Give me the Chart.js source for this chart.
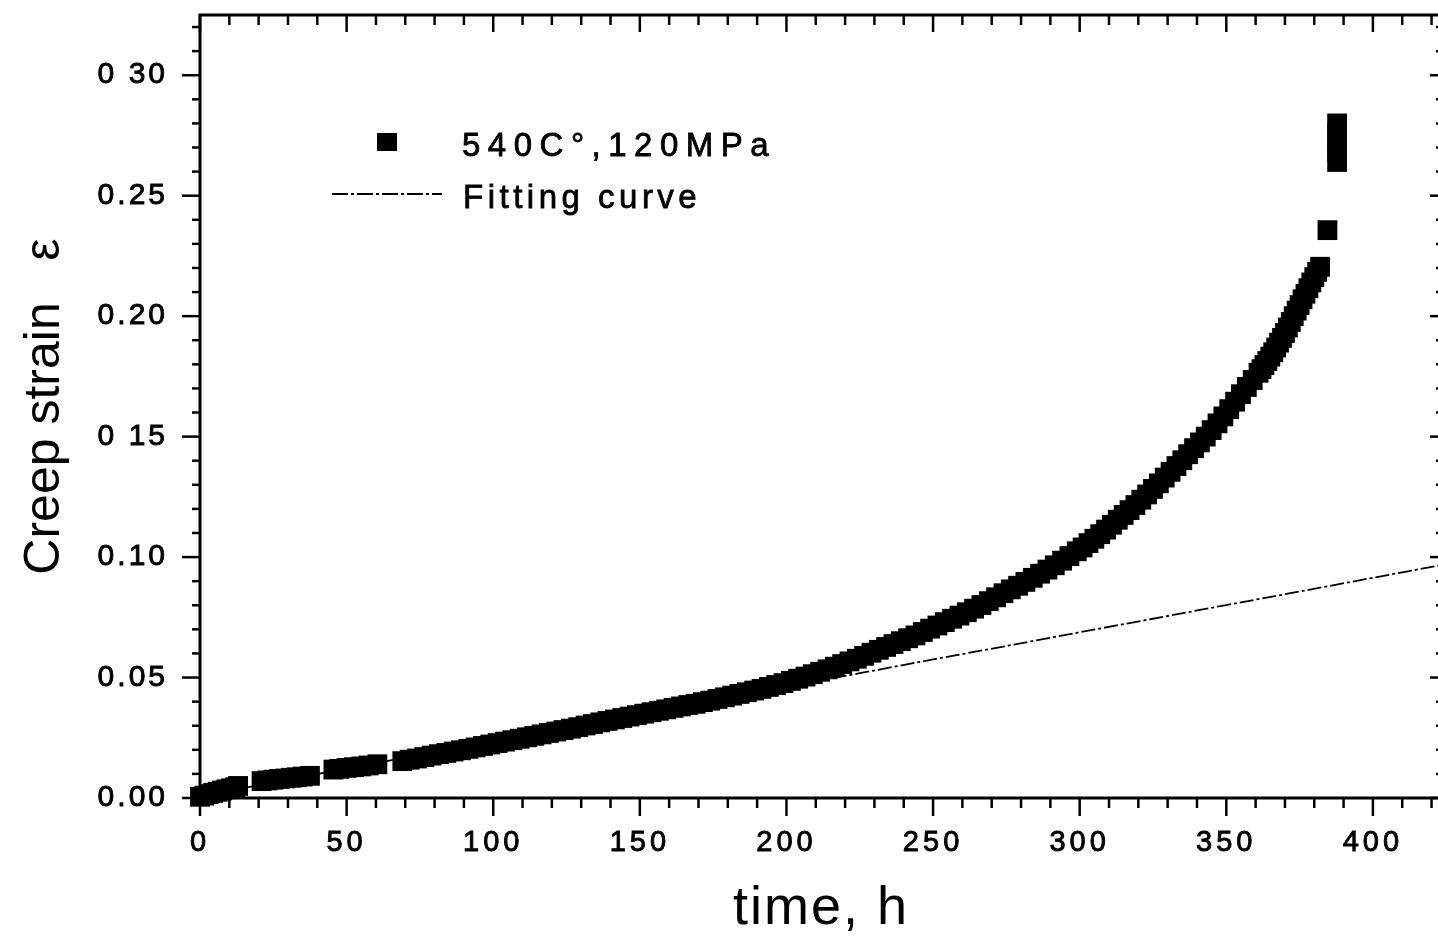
<!DOCTYPE html>
<html>
<head>
<meta charset="utf-8">
<script src="https://cdn.jsdelivr.net/npm/chart.js@4.4.1/dist/chart.umd.min.js"></script>
<style>
html,body{margin:0;padding:0;background:#fff;overflow:hidden;width:1438px;height:947px}
canvas{display:block}
</style>
</head>
<body>
<canvas id="c" width="1438" height="947" style="width:1438px;height:947px"></canvas>
<script>
// ---------- labels ----------
const seriesLabel = '540C°,120MPa';
const fitLabel = 'Fitting curve';
const xTitle = 'time, h';
const yTitle = 'Creep strain   ε';

// ---------- measured creep data (time in h, strain), read segment by segment ----------
const seg1Time   = [0,1.5,3,4.5,6,7.5,9,10.5,12,13];
const seg1Strain = [0.0005,0.0010,0.0016,0.0021,0.0026,0.0031,0.0036,0.0040,0.0045,0.0050];

const seg2Time   = [21,23,25,27,29,31,33,35,37.5];
const seg2Strain = [0.0070,0.0073,0.0076,0.0079,0.0081,0.0084,0.0086,0.0089,0.0092];

const seg3Time   = [45.5,47.5,50,52.5,55,57.5,60.5];
const seg3Strain = [0.0118,0.0121,0.0125,0.0128,0.0131,0.0135,0.0140];

const seg4Time = [
  69,71.5,74,76.5,79,81.5,84,86.5,89,91.5,
  94,96.5,99,101.5,104,106.5,109,111.5,114,116.5,
  119,121.5,124,126.5,129,131.5,134,136.5,139,141.5,
  144,146.5,149,151.5,154,156.5,159,161.5,164,166.5,
  169,171.5,174,176.5,179,181.5,184,186.5,189,191.5,
  194,196.5,199,201.5,204,206.5,209,211.5,214,216.5,
  219,221.5,224,226.5,229,231.5,234,236.5,239,241.5,
  244,246.5,249,251.5,254,256.5,259,261.5,264,266.5,
  269,271.5,274,276.5,279,281.5,284,286.5,289,291.5,
  294,296.5,299];
const seg4Strain = [
  0.0153,0.0159,0.0164,0.0170,0.0176,0.0182,0.0187,0.0193,0.0198,0.0204,
  0.0210,0.0216,0.0222,0.0228,0.0234,0.0240,0.0246,0.0252,0.0258,0.0264,
  0.0270,0.0276,0.0282,0.0288,0.0294,0.0301,0.0307,0.0314,0.0320,0.0326,
  0.0332,0.0338,0.0344,0.0350,0.0356,0.0362,0.0368,0.0374,0.0380,0.0386,
  0.0391,0.0398,0.0404,0.0411,0.0418,0.0425,0.0432,0.0439,0.0446,0.0453,
  0.0461,0.0469,0.0477,0.0486,0.0495,0.0504,0.0514,0.0524,0.0534,0.0545,
  0.0556,0.0567,0.0578,0.0590,0.0603,0.0615,0.0627,0.0639,0.0651,0.0663,
  0.0675,0.0689,0.0703,0.0716,0.0730,0.0744,0.0757,0.0771,0.0786,0.0801,
  0.0817,0.0833,0.0850,0.0866,0.0881,0.0897,0.0914,0.0931,0.0948,0.0966,
  0.0985,0.1004,0.1024];

const seg5Time = [
  301,303,305,307,309,311,313,315,317,319,
  321,323,325,327,329,331,333,335,337,339,
  341,343,345,347,349,351,353,355,357,359,
  361];
const seg5Strain = [
  0.1040,0.1058,0.1076,0.1095,0.1114,0.1134,0.1155,0.1175,0.1195,0.1216,
  0.1238,0.1260,0.1283,0.1306,0.1330,0.1354,0.1378,0.1402,0.1427,0.1452,
  0.1476,0.1500,0.1527,0.1555,0.1584,0.1614,0.1645,0.1676,0.1706,0.1735,
  0.1765];

const seg6Time = [
  362,363,364,365,366,367,368,369,370,371,
  372,373,374,375,376,377,378,379,380,381,
  382];
const seg6Strain = [
  0.1780,0.1797,0.1814,0.1832,0.1850,0.1870,0.1890,0.1910,0.1930,0.1953,
  0.1976,0.2000,0.2023,0.2046,0.2070,0.2093,0.2116,0.2140,0.2162,0.2184,
  0.2205];

const seg7Time   = [384.5,387.8,387.8,387.8,387.8,387.8];
const seg7Strain = [0.2357,0.2640,0.2680,0.2720,0.2760,0.2800];

// ---------- fitting curve ----------
const fitTimeHours = [0,10,25,50,75,100,125,150,175,200,225,250,275,300,325,350,375,400,423];
const fitStrain = [0,0.0029,0.0066,0.0122,0.0179,0.0236,0.0292,0.0349,0.0405,0.0462,0.0518,0.0575,0.0631,0.0688,0.0744,0.0801,0.0857,0.0914,0.0966];

// ---------- axes ----------
const xTickValues = [0,50,100,150,200,250,300,350,400];
const xTickLabels = ['0','50','100','150','200','250','300','350','400'];
const yTickValues = [0,0.05,0.10,0.15,0.20,0.25,0.30];
const yTickLabels = ['0.00','0.05','0.10','0 15','0.20','0.25','0 30'];
const xMinorStep = 10;
const yMinorStep = 0.01;

const timeHours = [].concat(seg1Time, seg2Time, seg3Time, seg4Time, seg5Time, seg6Time, seg7Time);
const creepStrain = [].concat(seg1Strain, seg2Strain, seg3Strain, seg4Strain, seg5Strain, seg6Strain, seg7Strain);

// ---------- styling ----------
Chart.defaults.font.family = "'Liberation Sans', Arial, sans-serif";
Chart.defaults.color = '#000';

const textStyle = {
  x: {labels: '4px', title: '2px', dx: 2, dy: 1},
  y: {labels: '3px', title: '0px', dx: 0, dy: 0}
};

const framePlugin = {
  id: 'frame',
  beforeDraw(chart) {
    for (const id of ['x', 'y']) {
      const s = chart.scales[id];
      if (!s || s.__wrapped) continue;
      s.__wrapped = true;
      const dl = s.drawLabels, dt = s.drawTitle, st = textStyle[id];
      s.drawLabels = function (area) {
        const c = this.ctx; c.save(); c.letterSpacing = st.labels; dl.call(this, area); c.restore();
      };
      s.drawTitle = function () {
        const c = this.ctx; c.save(); c.letterSpacing = st.title; c.translate(st.dx, st.dy); dt.call(this); c.restore();
      };
    }
  },
  afterDraw(chart) {
    const ctx = chart.ctx, a = chart.chartArea, xs = chart.scales.x, ys = chart.scales.y;
    ctx.save();
    ctx.strokeStyle = '#000';
    ctx.lineWidth = 2.5;
    const line = (x1, y1, x2, y2) => { ctx.beginPath(); ctx.moveTo(x1, y1); ctx.lineTo(x2, y2); ctx.stroke(); };
    for (let i = 0; i * xMinorStep <= xs.max + 1e-9; i++) {
      const px = xs.getPixelForValue(i * xMinorStep);
      const major = i % 5 === 0;
      line(px, a.bottom, px, a.bottom + (major ? 18 : 10));
      line(px, a.top, px, a.top + (major ? 17 : 10));
    }
    for (let i = 0; i * yMinorStep <= ys.max + 1e-9; i++) {
      const py = ys.getPixelForValue(i * yMinorStep);
      const major = i % 5 === 0;
      line(a.left - (major ? 18 : 8), py, a.left, py);
      line(a.right, py, a.right - (major ? 8 : 2), py);
    }
    // frame (right edge lies just outside the picture, as in the reference)
    ctx.lineWidth = 3;
    ctx.beginPath();
    ctx.moveTo(a.right + 2, a.top);
    ctx.lineTo(a.left, a.top);
    ctx.lineTo(a.left, a.bottom);
    ctx.lineTo(a.right + 2, a.bottom);
    ctx.stroke();

    // legend
    const ds = chart.data.datasets;
    ctx.fillStyle = '#000';
    ctx.fillRect(377, 133, 20, 18);
    ctx.lineWidth = 2;
    ctx.setLineDash([16, 3, 3, 3]);
    line(332, 194, 442, 194);
    ctx.setLineDash([]);
    ctx.font = "33px 'Liberation Sans', Arial, sans-serif";
    ctx.textBaseline = 'alphabetic';
    ctx.textAlign = 'left';
    ctx.lineWidth = 0.8;
    ctx.letterSpacing = '7.5px';
    ctx.fillText(ds[0].label, 462, 156);
    ctx.strokeText(ds[0].label, 462, 156);
    ctx.letterSpacing = '4.5px';
    ctx.fillText(ds[1].label, 463, 208);
    ctx.strokeText(ds[1].label, 463, 208);
    ctx.restore();
  }
};

new Chart(document.getElementById('c'), {
  type: 'scatter',
  data: {
    datasets: [
      {
        label: seriesLabel,
        data: timeHours.map((t, i) => ({x: t, y: creepStrain[i]})),
        showLine: false,
        pointStyle: 'rect',
        pointRadius: 14,
        pointHoverRadius: 14,
        backgroundColor: '#000',
        borderColor: '#000',
        borderWidth: 0,
        clip: false,
        order: 1
      },
      {
        label: fitLabel,
        data: fitTimeHours.map((t, i) => ({x: t, y: fitStrain[i]})),
        showLine: true,
        pointRadius: 0,
        pointHoverRadius: 0,
        borderColor: '#000',
        borderWidth: 1.8,
        borderDash: [14, 3, 3, 3],
        tension: 0,
        fill: false,
        clip: false,
        order: 2
      }
    ]
  },
  options: {
    responsive: false,
    animation: false,
    events: [],
    layout: {autoPadding: false, padding: {top: 15, right: 0, left: 0, bottom: 0}},
    plugins: {legend: {display: false}, tooltip: {enabled: false}},
    scales: {
      x: {
        type: 'linear',
        position: 'bottom',
        min: 0,
        max: 422.2,
        grid: {display: false, drawTicks: false},
        border: {display: false},
        afterBuildTicks: s => { s.ticks = xTickValues.map(v => ({value: v})); },
        afterFit: s => { s.height = 149; s.paddingLeft = 0; s.paddingRight = 0; },
        ticks: {
          padding: 28,
          maxRotation: 0,
          autoSkip: false,
          font: {size: 29},
          color: '#000',
          textStrokeColor: '#000',
          textStrokeWidth: 0.9,
          callback: (v, i) => xTickLabels[i]
        },
        title: {display: true, text: xTitle, font: {size: 54}, color: '#000', padding: {top: 0, bottom: 6}}
      },
      y: {
        type: 'linear',
        position: 'left',
        min: 0,
        max: 0.325,
        grid: {display: false, drawTicks: false},
        border: {display: false},
        afterBuildTicks: s => { s.ticks = yTickValues.map(v => ({value: v})); },
        afterFit: s => { s.width = 200; s.paddingTop = 0; s.paddingBottom = 0; },
        ticks: {
          padding: 32,
          autoSkip: false,
          font: {size: 30},
          color: '#000',
          textStrokeColor: '#000',
          textStrokeWidth: 0.9,
          callback: (v, i) => yTickLabels[i]
        },
        title: {display: true, text: yTitle, font: {size: 50}, color: '#000', padding: {top: 15, bottom: 0}}
      }
    }
  },
  plugins: [framePlugin]
});
</script>
</body>
</html>
